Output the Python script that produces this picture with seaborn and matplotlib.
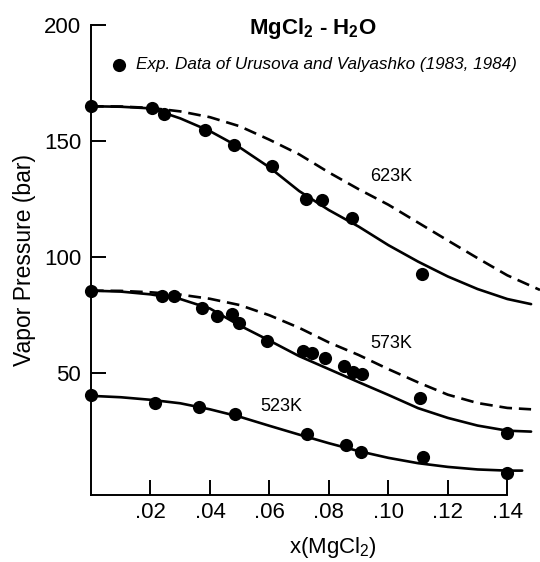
import numpy as np
import pandas as pd
import matplotlib
matplotlib.use("Agg")
import matplotlib.pyplot as plt
import seaborn as sns

# ---- data ----
exp_623_x = [0.0, 0.0204, 0.0245, 0.0383, 0.0482, 0.0610, 0.0722, 0.0777, 0.0878, 0.1114]
exp_623_y = [165.0, 164.1, 161.8, 154.8, 148.4, 139.3, 124.9, 124.5, 116.8, 92.8]

exp_573_x = [0.0, 0.0239, 0.0280, 0.0373, 0.0425, 0.0475, 0.0499, 0.0592, 0.0713, 0.0742,
             0.0787, 0.0852, 0.0880, 0.0913, 0.1107, 0.1400]
exp_573_y = [85.6, 83.3, 83.3, 78.0, 74.8, 75.4, 71.5, 63.9, 59.6, 58.9,
             56.5, 53.1, 50.4, 49.6, 39.2, 24.4]

exp_523_x = [0.0, 0.0216, 0.0362, 0.0485, 0.0727, 0.0857, 0.0908, 0.1117, 0.1398]
exp_523_y = [40.7, 37.3, 35.4, 32.3, 23.9, 19.2, 16.0, 14.1, 7.2]

fit_x = [0.0, 0.01, 0.02, 0.03, 0.04, 0.05, 0.06, 0.07, 0.08, 0.09, 0.10, 0.11, 0.12, 0.13, 0.14]

solid_623_y = [165.0, 164.8, 164.1, 159.8, 154.3, 147.3, 138.7, 128.5, 120.3, 113.2, 105.2, 98.1, 91.7, 86.3, 82.0]
solid_623_end = (0.148, 79.8)
dash_623_y = [165.0, 164.9, 164.3, 162.8, 160.3, 156.4, 150.6, 144.3, 136.5, 129.3, 122.6, 114.9, 107.2, 99.6, 92.2]
dash_623_end = (0.151, 85.9)

solid_573_y = [85.6, 85.2, 84.0, 82.0, 77.9, 70.6, 64.1, 57.4, 51.8, 46.2, 40.7, 35.0, 30.8, 27.5, 25.3]
solid_573_end = (0.148, 24.9)
dash_573_y = [85.6, 85.5, 84.9, 83.9, 82.1, 79.4, 75.0, 69.6, 63.3, 57.9, 51.8, 46.1, 40.8, 37.2, 35.1]
dash_573_end = (0.148, 34.5)

solid_523_y = [40.3, 39.7, 38.6, 37.1, 34.5, 31.3, 27.4, 23.6, 19.9, 16.5, 13.6, 11.3, 9.7, 8.6, 8.1]
solid_523_end = (0.145, 8.1)

x_ticks = [0.02, 0.04, 0.06, 0.08, 0.10, 0.12, 0.14]
x_tick_labels = [".02", ".04", ".06", ".08", ".10", ".12", ".14"]
y_ticks = [50, 100, 150, 200]

curve_labels = [("623K", 0.101, 134.7), ("573K", 0.101, 62.9), ("523K", 0.0639, 35.6)]

# ---- style ----
sns.set_theme(style="ticks", rc={
    "xtick.direction": "in", "ytick.direction": "in",
    "xtick.major.size": 11, "ytick.major.size": 11,
    "xtick.major.width": 1.3, "ytick.major.width": 1.3,
})
plt.rcParams["font.family"] = ["Liberation Sans", "DejaVu Sans"]
plt.rcParams["mathtext.fontset"] = "custom"
plt.rcParams["mathtext.rm"] = "Liberation Sans"
plt.rcParams["mathtext.it"] = "Liberation Sans:italic"
plt.rcParams["mathtext.bf"] = "Liberation Sans:bold"
plt.rcParams["text.color"] = "black"
plt.rcParams["axes.labelcolor"] = "black"
plt.rcParams["xtick.color"] = "black"
plt.rcParams["ytick.color"] = "black"

fig = plt.figure(figsize=(5.4, 5.62), dpi=100)
ax = fig.add_axes([91 / 540, 1 - 495 / 562, 1 - 91 / 540, (495 - 25) / 562])

lw = 1.9


def curve(xs, ys, end, dashed=False):
    xx = list(xs) + [end[0]]
    yy = list(ys) + [end[1]]
    df = pd.DataFrame({"x": xx, "y": yy})
    kw = dict(color="black", lw=lw, sort=False, estimator=None, ax=ax, legend=False)
    if dashed:
        kw["linestyle"] = (0, (4.8, 2.6))
    sns.lineplot(data=df, x="x", y="y", **kw)


curve(fit_x, dash_623_y, dash_623_end, dashed=True)
curve(fit_x, dash_573_y, dash_573_end, dashed=True)
curve(fit_x, solid_623_y, solid_623_end)
curve(fit_x, solid_573_y, solid_573_end)
curve(fit_x, solid_523_y, solid_523_end)

exp_x = exp_623_x + exp_573_x + exp_523_x
exp_y = exp_623_y + exp_573_y + exp_523_y
sns.scatterplot(x=exp_x, y=exp_y, ax=ax, color="black", s=90, linewidth=0,
                zorder=5, clip_on=False,
                label="Exp. Data of Urusova and Valyashko (1983, 1984)")

ax.set_xlim(0, 0.151)
ax.set_ylim(-2.4, 200)

for side in ["top", "right"]:
    ax.spines[side].set_visible(False)
for side in ["left", "bottom"]:
    ax.spines[side].set_color("black")
    ax.spines[side].set_linewidth(1.4)
ax.spines["bottom"].set_bounds(0, 0.14)

ax.set_xticks(x_ticks)
ax.set_xticklabels(x_tick_labels)
ax.set_yticks(y_ticks)
ax.tick_params(axis="both", which="major", direction="in", length=11, width=1.4,
               color="black", labelcolor="black", labelsize=16,
               bottom=True, left=True, top=False, right=False)
ax.tick_params(axis="x", pad=5)
ax.tick_params(axis="y", pad=7)

ax.set_xlabel("x(MgCl$_2$)", fontsize=16, labelpad=6)
ax.xaxis.set_label_coords(0.538, -0.085)
ax.set_ylabel("Vapor Pressure (bar)", fontsize=16.5, labelpad=6)

ax.text(0.0746, 198.7, r"$\mathbf{MgCl_2}$ - $\mathbf{H_2O}$", ha="center", va="center",
        fontsize=16, fontweight="bold")

for txt, lx, ly in curve_labels:
    ax.text(lx, ly, txt, ha="center", va="center", fontsize=13)

leg = ax.legend(loc="center left", bbox_to_anchor=(0.029, 0.915), frameon=False,
                prop={"style": "italic", "size": 12.3}, handlelength=1.0,
                handletextpad=0.45, borderaxespad=0, markerscale=1.0)

fig.savefig("out.png", dpi=100, facecolor="white")
